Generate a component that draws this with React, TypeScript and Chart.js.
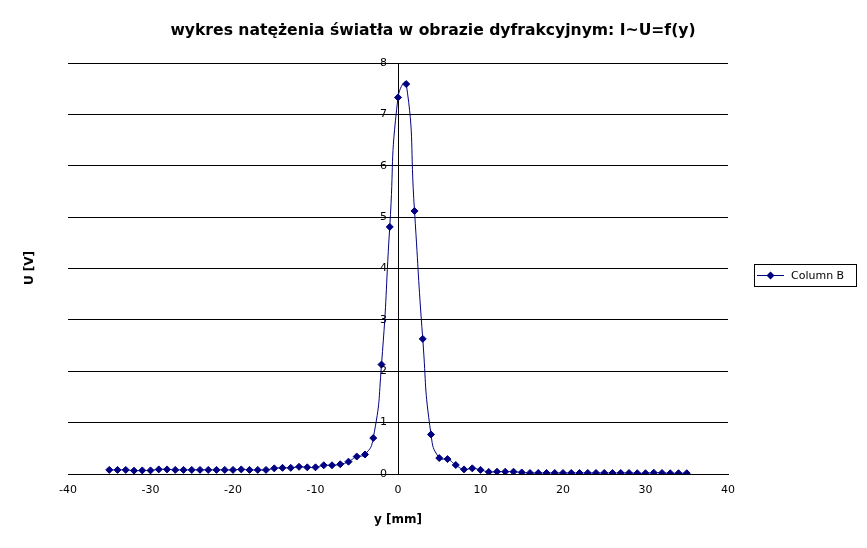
import React, { useEffect, useRef } from "react";
import { Chart, registerables } from "chart.js";

Chart.register(...registerables);

const yPositions = [
  -35, -34, -33, -32, -31, -30, -29, -28, -27, -26, -25, -24, -23, -22, -21, -20, -19, -18,
  -17, -16, -15, -14, -13, -12, -11, -10, -9, -8, -7, -6, -5, -4, -3, -2, -1, 0, 1, 2, 3, 4,
  5, 6, 7, 8, 9, 10, 11, 12, 13, 14, 15, 16, 17, 18, 19, 20, 21, 22, 23, 24, 25, 26, 27, 28,
  29, 30, 31, 32, 33, 34, 35,
];

const voltages = [
  0.08, 0.08, 0.08, 0.065, 0.07, 0.07, 0.09, 0.09, 0.08, 0.08, 0.08, 0.08, 0.08, 0.08, 0.08,
  0.08, 0.09, 0.08, 0.08, 0.08, 0.11, 0.12, 0.12, 0.14, 0.13, 0.13, 0.17, 0.17, 0.19, 0.24,
  0.34, 0.38, 0.7, 2.13, 4.81, 7.33, 7.59, 5.12, 2.63, 0.77, 0.31, 0.29, 0.175, 0.09, 0.11,
  0.08, 0.04, 0.045, 0.045, 0.045, 0.03, 0.02, 0.02, 0.02, 0.02, 0.02, 0.02, 0.02, 0.02, 0.02,
  0.02, 0.02, 0.02, 0.02, 0.015, 0.015, 0.025, 0.02, 0.015, 0.015, 0.015,
];

const seriesName = "Column B";
const chartTitle = "wykres natężenia światła w obrazie dyfrakcyjnym: I~U=f(y)";
const xTitle = "y [mm]";
const yTitle = "U [V]";

const FONT = "'DejaVu Sans', sans-serif";
const NAVY = "#000080";

export default function App() {
  const ref = useRef<HTMLCanvasElement | null>(null);

  useEffect(() => {
    document.body.style.margin = "0";
    const canvas = ref.current;
    if (!canvas) return;

    const decor = {
      id: "decor",
      afterDraw(chart: any) {
        const ctx = chart.ctx;
        ctx.save();
        // y tick labels, right-aligned left of the centred axis
        const ys = chart.scales.y;
        const xs = chart.scales.x;
        const axisX = xs.getPixelForValue(0);
        ctx.fillStyle = "#000";
        ctx.font = `11px ${FONT}`;
        ctx.textAlign = "right";
        ctx.textBaseline = "middle";
        ys.ticks.forEach((t: any) => {
          ctx.fillText(String(t.value), axisX - 11, ys.getPixelForValue(t.value));
        });

        ctx.textAlign = "center";
        ctx.font = `bold 15.6px ${FONT}`;
        ctx.fillText(chartTitle, 433, 31);
        ctx.font = `bold 12px ${FONT}`;
        ctx.fillText(xTitle, 398, 520);
        ctx.save();
        ctx.translate(30, 268);
        ctx.rotate(-Math.PI / 2);
        ctx.fillText(yTitle, 0, 0);
        ctx.restore();

        // legend
        ctx.strokeStyle = "#000";
        ctx.lineWidth = 1;
        ctx.strokeRect(754.5, 264.5, 102, 22);
        ctx.strokeStyle = NAVY;
        ctx.beginPath();
        ctx.moveTo(757, 275.5);
        ctx.lineTo(784, 275.5);
        ctx.stroke();
        ctx.fillStyle = NAVY;
        ctx.beginPath();
        ctx.moveTo(770.5, 271.5);
        ctx.lineTo(774.5, 275.5);
        ctx.lineTo(770.5, 279.5);
        ctx.lineTo(766.5, 275.5);
        ctx.closePath();
        ctx.fill();
        ctx.fillStyle = "#000";
        ctx.textAlign = "left";
        ctx.font = `11px ${FONT}`;
        ctx.fillText(seriesName, 791, 276);
        ctx.restore();
      },
    };

    const chart = new Chart(canvas, {
      type: "line",
      data: {
        datasets: [
          {
            label: seriesName,
            data: yPositions.map((x, i) => ({ x, y: voltages[i] })),
            borderColor: NAVY,
            backgroundColor: NAVY,
            borderWidth: 1,
            pointStyle: "rectRot",
            pointRadius: 3.5,
            pointBorderWidth: 1,
            pointBorderColor: NAVY,
            pointBackgroundColor: NAVY,
            tension: 0.55,
            fill: false,
          },
        ],
      },
      plugins: [decor],
      options: {
        animation: false,
        responsive: false,
        maintainAspectRatio: false,
        layout: { padding: { left: 68, right: 139, top: 63, bottom: 0 } },
        plugins: {
          legend: { display: false },
          title: { display: false },
          tooltip: { enabled: false },
        },
        scales: {
          x: {
            type: "linear",
            min: -40,
            max: 40,
            afterFit(scale: any) {
              scale.height = 74;
            },
            ticks: {
              stepSize: 10,
              color: "#000",
              padding: 10,
              font: { family: FONT, size: 11 },
              maxRotation: 0,
            },
            grid: { display: false, drawTicks: false },
            border: { display: true, color: "#000", width: 1 },
          },
          y: {
            type: "linear",
            min: 0,
            max: 8,
            position: { x: 0 } as any,
            ticks: {
              stepSize: 1,
              display: false,
            },
            grid: {
              display: true,
              color: "#000",
              lineWidth: 1,
              drawTicks: false,
            },
            border: { display: true, color: "#000", width: 1 },
          },
        },
      },
    });

    return () => chart.destroy();
  }, []);

  return (
    <div style={{ width: 867, height: 548 }}>
      <canvas ref={ref} width={867} height={548} style={{ display: "block", width: 867, height: 548 }} />
    </div>
  );
}
